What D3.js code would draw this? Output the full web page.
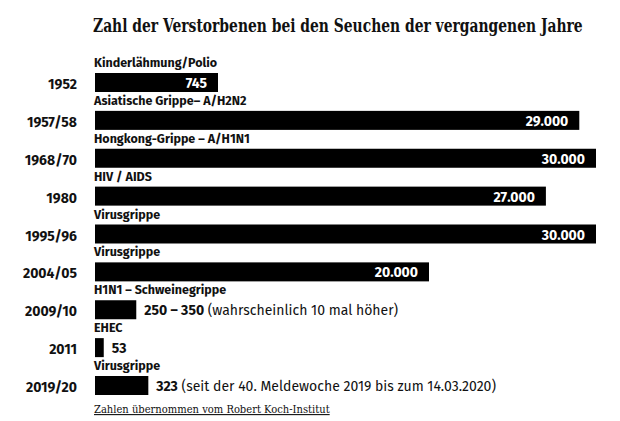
<!DOCTYPE html>
<html>
<head>
<meta charset="utf-8">
<script src="https://cdn.jsdelivr.net/npm/d3@7"></script>
<style>
  body { margin: 0; background: #fff; }
  svg { display: block; }
  .sans { font-family: "Fira Sans", Roboto, "Open Sans", sans-serif; }
</style>
</head>
<body>
<svg id="chart"></svg>
<script>
const years = ['1952', '1957/58', '1968/70', '1980', '1995/96', '2004/05', '2009/10', '2011', '2019/20'];
const diseases = ['Kinderlähmung/Polio', 'Asiatische Grippe– A/H2N2', 'Hongkong-Grippe – A/H1N1', 'HIV / AIDS',
  'Virusgrippe', 'Virusgrippe', 'H1N1 – Schweinegrippe', 'EHEC', 'Virusgrippe'];
const deaths = [745, 29000, 30000, 27000, 30000, 20000, 250, 53, 323];
const valueLabels = ['745', '29.000', '30.000', '27.000', '30.000', '20.000', '250 – 350', '53', '323'];
const notes = ['', '', '', '', '', '', ' (wahrscheinlich 10 mal höher)', '', ' (seit der 40. Meldewoche 2019 bis zum 14.03.2020)'];

const width = 620, height = 421;
const left = 95, barH = 19;

const svg = d3.select('#chart').attr('width', width).attr('height', height);

// broken scale: small numbers get stretched so the bars stay visible
const x = d3.scaleLinear()
  .domain([0, 745, 20000, 30000])
  .range([0, 123, 334, 501]);

const y = d3.scalePoint().domain(years).range([73, 376]);

const rows = years.map((yr, i) => ({
  year: yr, name: diseases[i], value: deaths[i], label: valueLabels[i], note: notes[i]
}));

// serif text squeezed to the width it has in the original
function fitText(str, x0, y0, size, targetW, underline) {
  const t = svg.append('text')
    .style('font-family', '"DejaVu Serif", serif')
    .style('font-size', size + 'px').style('fill', '#111')
    .text(str);
  if (!underline) t.style('font-weight', 'bold');
  else t.style('text-decoration', 'underline');
  const w = t.node().getComputedTextLength();
  t.attr('transform', `translate(${x0},${y0}) scale(${targetW / w},1)`);
  return t;
}

fitText('Zahl der Verstorbenen bei den Seuchen der vergangenen Jahre', 93, 32, 18, 490, false);

const g = svg.selectAll('g.row').data(rows).enter().append('g')
  .attr('class', 'row sans')
  .attr('transform', d => `translate(0,${y(d.year)})`);

g.append('rect')
  .attr('x', left).attr('y', 0)
  .attr('width', d => x(d.value))
  .attr('height', barH)
  .style('fill', '#000');

g.append('text')
  .attr('x', 77).attr('y', 16)
  .attr('text-anchor', 'end')
  .style('font-weight', 'bold').style('font-size', '14px').style('fill', '#111')
  .text(d => d.year);

g.append('text')
  .attr('x', 94).attr('y', -6)
  .style('font-weight', 'bold').style('font-size', '12.5px').style('fill', '#111')
  .text(d => d.name);

const inside = d => x(d.value) > 100;

g.filter(inside).append('text')
  .attr('x', d => left + x(d.value) - 11).attr('y', 15)
  .attr('text-anchor', 'end')
  .style('font-weight', 'bold').style('font-size', '14px').style('fill', '#fff')
  .text(d => d.label);

const out = g.filter(d => !inside(d)).append('text')
  .attr('x', d => left + x(d.value) + 8).attr('y', 15)
  .style('font-size', '14px').style('fill', '#111');
out.append('tspan').style('font-weight', 'bold').text(d => d.label);
out.append('tspan').text(d => d.note);

fitText('Zahlen übernommen vom Robert Koch-Institut', 94, 413, 11, 236, true);
</script>
</body>
</html>
